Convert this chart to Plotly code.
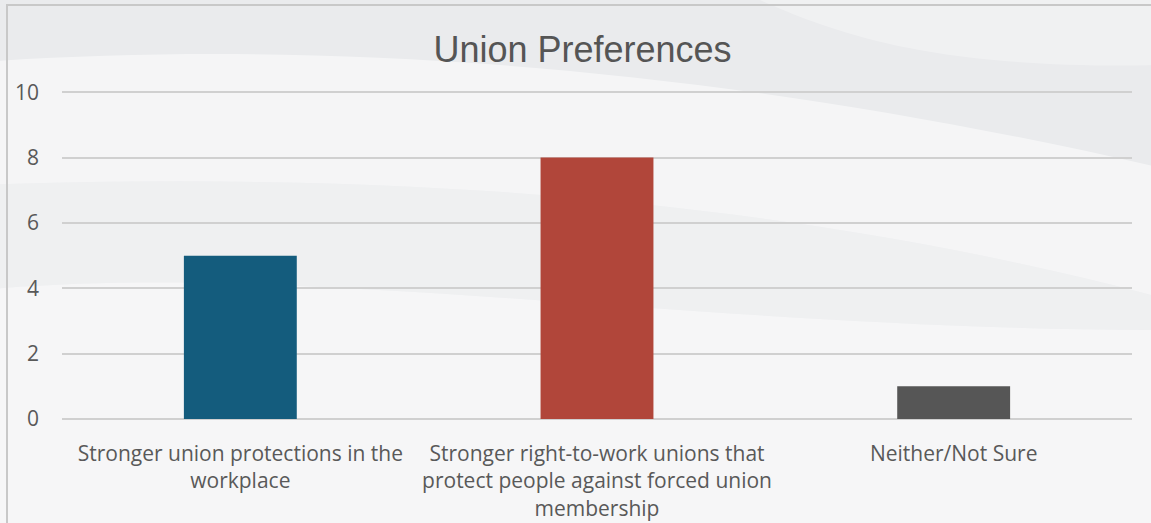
import plotly.graph_objects as go

# Survey responses
categories = [
    "Stronger union protections in the<br>workplace",
    "Stronger right-to-work unions that<br>protect people against forced union<br>membership",
    "Neither/Not Sure",
]
counts = [5, 8, 1]
bar_colors = ["#145C7D", "#B1463A", "#565656"]
y_ticks = [0, 2, 4, 6, 8, 10]
y_max = 10.1  # a little headroom so the top gridline is drawn

W, H = 1151, 523
ML, MR, MT, MB = 62, 19, 89, 104
PW, PH = W - ML - MR, H - MT - MB


def px(x, y):
    """Convert page pixels to paper coordinates."""
    return (x - ML) / PW, 1 - (y - MT) / PH


def path(points):
    parts = []
    for p in points:
        cmd, coords = p[0], p[1:]
        conv = []
        for j in range(0, len(coords), 2):
            a, b = px(coords[j], coords[j + 1])
            conv.append(f"{a:.4f},{b:.4f}")
        parts.append(cmd + " " + " ".join(conv))
    return " ".join(parts) + " Z"


fig = go.Figure(
    go.Bar(
        x=categories,
        y=counts,
        marker=dict(color=bar_colors, line=dict(width=0)),
        hoverinfo="x+y",
    )
)

# soft fabric-like waves in the background
waves = [
    # bright band across the upper part
    (path([("M", -20, 62), ("C", 300, 40, 700, 60, 1170, 170), ("L", 1170, 300),
           ("C", 800, 200, 400, 170, -20, 185)]), "#FFFFFF", 0.5),
    # lighter lower area
    (path([("M", -20, 290), ("C", 300, 260, 700, 330, 1170, 330), ("L", 1170, 600),
           ("L", -20, 600)]), "#FFFFFF", 0.55),
    # gentle lift in the middle band
    (path([("M", -20, 185), ("C", 400, 170, 800, 200, 1170, 300), ("L", 1170, 330),
           ("C", 700, 330, 300, 260, -20, 290)]), "#FFFFFF", 0.25),
    # pale corner at the top right
    (path([("M", 760, 0), ("C", 850, 40, 950, 70, 1170, 65), ("L", 1170, 0)]),
     "#FFFFFF", 0.3),
]
shapes = []
for d, col, op in waves:
    shapes.append(dict(type="path", path=d, xref="paper", yref="paper",
                       fillcolor=col, opacity=op, line=dict(width=0), layer="below"))

# chart frame
bx0, by1 = px(7, 5)
bx1, by0 = px(1200, 560)
shapes.append(dict(type="rect", xref="paper", yref="paper", x0=bx0, y0=by0, x1=bx1, y1=by1,
                   line=dict(color="#C8C8C8", width=2), fillcolor="rgba(0,0,0,0)", layer="above"))

fig.update_layout(
    width=W,
    height=H,
    margin=dict(l=ML, r=MR, t=MT, b=MB, autoexpand=False),
    paper_bgcolor="#EAEBED",
    plot_bgcolor="rgba(0,0,0,0)",
    bargap=0.6835,
    showlegend=False,
    shapes=shapes,
    title=dict(
        text="Union Preferences",
        font=dict(family="Liberation Sans, Arial, sans-serif", size=36, color="#555555"),
        x=582.5 / W, xref="container", xanchor="center",
        y=1 - 49 / H, yref="container", yanchor="middle",
    ),
    font=dict(family="Open Sans, sans-serif", color="#595959"),
)

fig.update_yaxes(
    range=[0, y_max],
    tickvals=y_ticks,
    automargin=False,
    showgrid=True,
    gridcolor="#D0D0D0",
    gridwidth=1.5,
    zeroline=True,
    zerolinecolor="#D0D0D0",
    zerolinewidth=1.5,
    showline=False,
    ticks="",
    ticklabelstandoff=22,
    tickfont=dict(size=21, color="#595959"),
)
fig.update_xaxes(
    automargin=False,
    showgrid=False,
    showline=False,
    ticks="",
    ticklabelstandoff=20,
    tickangle=0,
    tickfont=dict(size=21, color="#595959"),
)

fig.write_html("out.html")
